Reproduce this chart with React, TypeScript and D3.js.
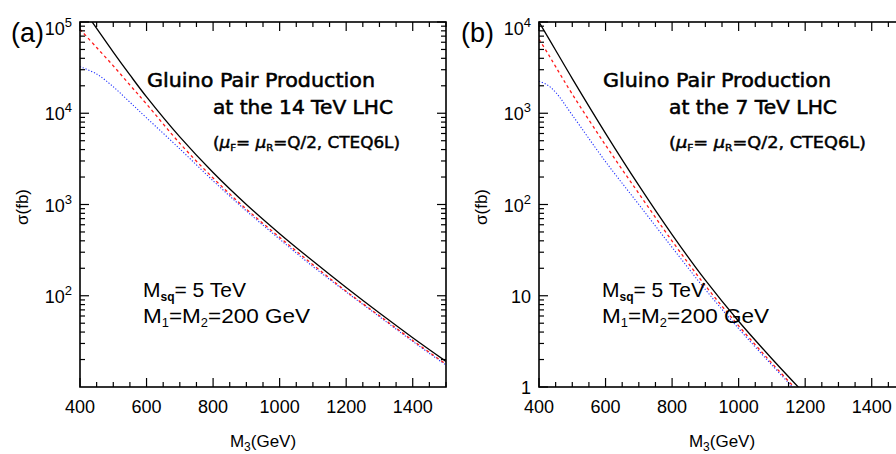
import React from 'react';
import * as d3 from 'd3';

// ---------- data (sigma in fb vs gluino mass M3 in GeV) ----------
const massA = [400, 450, 500, 550, 600, 700, 800, 900, 1000, 1100, 1200, 1300, 1400, 1500];
const sigmaA_solid = [155000, 85100, 46800, 26300, 15100, 5500, 2240, 1000, 479, 240, 123, 64.6, 34.7, 19.1];
const sigmaA_dashed = [83200, 52500, 33100, 20400, 12600, 4680, 1950, 891, 437, 219, 112, 60.3, 32.4, 17.8];
const sigmaA_dotted = [32400, 26900, 19500, 13200, 8910, 4070, 1820, 851, 417, 209, 110, 58.9, 31.6, 17.4];

const massB = [400, 425, 450, 500, 600, 700, 800, 900, 1000, 1100, 1200];
const sigmaB_solid = [10000, 7000, 4900, 2400, 603, 162, 46.8, 14.8, 5.25, 2.04, 0.83];
const sigmaB_dashed = [6460, 4620, 3240, 1620, 447, 132, 39.8, 12.9, 4.68, 1.82, 0.74];
const sigmaB_dotted = [2240, 2040, 1700, 955, 295, 100, 33.9, 11.7, 4.37, 1.74, 0.71];

const xMajorTicks = [400, 600, 800, 1000, 1200, 1400];
const yTicksA = [100, 1000, 10000, 100000];
const yLabelsA = [['10', '2'], ['10', '3'], ['10', '4'], ['10', '5']];
const yTicksB = [1, 10, 100, 1000, 10000];
const yLabelsB = [['1', ''], ['10', ''], ['10', '2'], ['10', '3'], ['10', '4']];

const W = 896, H = 454;
const PW = 366, PH = 365, TOP = 22;

type PanelProps = {
  id: string;
  left: number;
  tag: string;
  tagX: number;
  yDomain: [number, number];
  yTicks: number[];
  yLabels: string[][];
  mass: number[];
  solid: number[];
  dashed: number[];
  dotted: number[];
  energy: string;
  textDx: number;
};

function Panel(p: PanelProps) {
  const x = d3.scaleLinear().domain([400, 1500]).range([p.left, p.left + PW]);
  const y = d3.scaleLog().domain(p.yDomain).range([TOP + PH, TOP]);
  const line = d3.line<[number, number]>()
    .x(d => x(d[0]))
    .y(d => y(d[1]))
    .curve(d3.curveCatmullRom.alpha(0.5));
  const pts = (v: number[]) => p.mass.map((m, i) => [m, v[i]] as [number, number]);

  const minorX: number[] = d3.range(400, 1501, 50).filter(v => v % 200 !== 0);
  const minorY: number[] = [];
  const d0 = Math.round(Math.log10(p.yDomain[0]));
  const d1 = Math.round(Math.log10(p.yDomain[1]));
  for (let d = d0; d < d1; d++) for (let k = 2; k <= 9; k++) minorY.push(k * Math.pow(10, d));

  const bottom = TOP + PH, right = p.left + PW;
  const tickStyle = { stroke: '#000', strokeWidth: 1.2 };
  const font = "'Liberation Sans', Arial, sans-serif";
  const afont = "'DejaVu Sans', sans-serif";
  const tx = p.left + p.textDx;

  return (
    <g>
      <defs>
        <clipPath id={'clip' + p.id}>
          <rect x={p.left} y={TOP} width={PW} height={PH} />
        </clipPath>
      </defs>
      {/* curves */}
      <g clipPath={`url(#clip${p.id})`} fill="none">
        <path d={line(pts(p.dotted)) || ''} stroke="#2233ff" strokeWidth={1.1} strokeDasharray="1.2,1.8" />
        <path d={line(pts(p.dashed)) || ''} stroke="#ff1a1a" strokeWidth={1.3} strokeDasharray="3,3" />
        <path d={line(pts(p.solid)) || ''} stroke="#000" strokeWidth={1.3} />
      </g>
      {/* ticks */}
      {xMajorTicks.map(t => (
        <g key={'xm' + t}>
          <line x1={x(t)} x2={x(t)} y1={bottom} y2={bottom - 9} {...tickStyle} />
          <line x1={x(t)} x2={x(t)} y1={TOP} y2={TOP + 9} {...tickStyle} />
        </g>
      ))}
      {minorX.map(t => (
        <g key={'xn' + t}>
          <line x1={x(t)} x2={x(t)} y1={bottom} y2={bottom - 5} {...tickStyle} />
          <line x1={x(t)} x2={x(t)} y1={TOP} y2={TOP + 5} {...tickStyle} />
        </g>
      ))}
      {p.yTicks.map(t => (
        <g key={'ym' + t}>
          <line x1={p.left} x2={p.left + 9} y1={y(t)} y2={y(t)} {...tickStyle} />
          <line x1={right} x2={right - 9} y1={y(t)} y2={y(t)} {...tickStyle} />
        </g>
      ))}
      {minorY.map(t => (
        <g key={'yn' + t}>
          <line x1={p.left} x2={p.left + 5} y1={y(t)} y2={y(t)} {...tickStyle} />
          <line x1={right} x2={right - 5} y1={y(t)} y2={y(t)} {...tickStyle} />
        </g>
      ))}
      {/* frame */}
      <rect x={p.left} y={TOP} width={PW} height={PH} fill="none" stroke="#000" strokeWidth={1.6} />
      {/* x tick labels */}
      {xMajorTicks.map(t => (
        <text key={'xl' + t} x={x(t)} y={413} textAnchor="middle" fontFamily={font} fontSize={18}>{t}</text>
      ))}
      {/* y tick labels */}
      {p.yTicks.map((t, i) => {
        const [base, ex] = p.yLabels[i];
        const yy = Math.max(y(t) + 7, 35);
        return (
          <text key={'yl' + t} x={p.left - 8} y={yy} textAnchor="end" fontFamily={font} fontSize={18}>
            {base}
            {ex && <tspan fontSize={13} dy={-8}>{ex}</tspan>}
          </text>
        );
      })}
      {/* axis titles */}
      <text x={p.left + 183} y={447} textAnchor="middle" fontFamily={font} fontSize={17}>
        M<tspan fontSize={12} dy={4}>3</tspan><tspan dy={-4}>(GeV)</tspan>
      </text>
      <text transform={`translate(${p.left - 52},207) rotate(-90)`} textAnchor="middle" fontFamily={font} fontSize={17}>σ(fb)</text>
      <text x={p.tagX} y={42} fontFamily={font} fontSize={27}>{p.tag}</text>
      {/* annotations */}
      <g stroke="#000" strokeWidth={0.55}>
        <text x={tx} y={87} fontFamily={afont} fontSize={20} textLength={228} lengthAdjust="spacingAndGlyphs">Gluino Pair Production</text>
        <text x={tx + 66} y={114} fontFamily={afont} fontSize={20} textLength={p.id === 'a' ? 180 : 168} lengthAdjust="spacingAndGlyphs">{`at the ${p.energy} TeV LHC`}</text>
        <text x={tx + 66} y={148} fontFamily={afont} fontSize={15} strokeWidth={0.45} textLength={p.id === 'a' ? 187 : 197} lengthAdjust="spacingAndGlyphs">
          (<tspan fontStyle="italic">μ</tspan><tspan fontSize={9} dy={3}>F</tspan><tspan dy={-3}>= </tspan>
          <tspan fontStyle="italic">μ</tspan><tspan fontSize={9} dy={3}>R</tspan><tspan dy={-3}>=Q/2, CTEQ6L)</tspan>
        </text>
      </g>
      <text x={p.left + 63} y={297} fontFamily={font} fontSize={21}>
        M<tspan fontSize={12} dy={4} fontWeight="bold">sq</tspan><tspan dy={-4}>= 5 TeV</tspan>
      </text>
      <text x={p.left + 63} y={323} fontFamily={font} fontSize={21} textLength={167} lengthAdjust="spacingAndGlyphs">
        M<tspan fontSize={12} dy={4}>1</tspan><tspan dy={-4}>=M</tspan><tspan fontSize={12} dy={4}>2</tspan><tspan dy={-4}>=200 GeV</tspan>
      </text>
    </g>
  );
}

export default function App() {
  return (
    <svg width={W} height={H} viewBox={`0 0 ${W} ${H}`}
      style={{ position: 'absolute', left: 0, top: 0, background: '#fff' }}>
      <rect x={0} y={0} width={W} height={H} fill="#fff" />
      <Panel id="a" left={80} tag="(a)" tagX={11} yDomain={[10, 100000]} yTicks={yTicksA} yLabels={yLabelsA}
        mass={massA} solid={sigmaA_solid} dashed={sigmaA_dashed} dotted={sigmaA_dotted} energy="14" textDx={67} />
      <Panel id="b" left={539} tag="(b)" tagX={461} yDomain={[1, 10000]} yTicks={yTicksB} yLabels={yLabelsB}
        mass={massB} solid={sigmaB_solid} dashed={sigmaB_dashed} dotted={sigmaB_dotted} energy="7" textDx={64} />
    </svg>
  );
}
